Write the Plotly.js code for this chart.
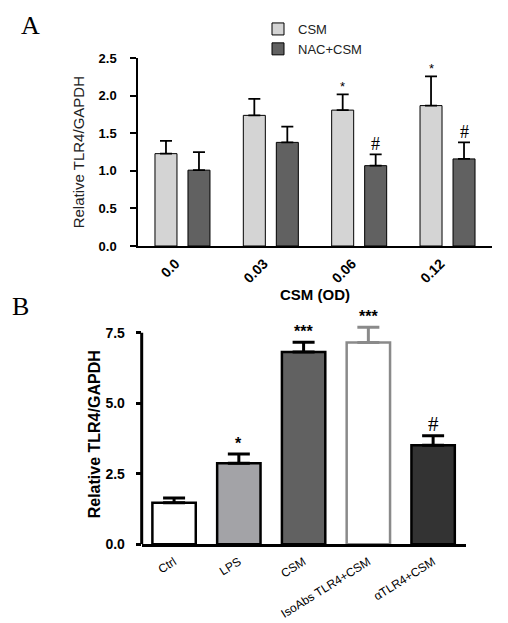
<!DOCTYPE html>
<html>
<head>
<meta charset="utf-8">
<script src="https://cdn.plot.ly/plotly-3.0.1.min.js"></script>
<style>html,body{margin:0;padding:0;background:#fff;}#chart{width:508px;height:623px;}</style>
</head>
<body>
<div id="chart"></div>
<script>
// ---- Panel A data ----
const categoriesA = ["0.0", "0.03", "0.06", "0.12"];
const csmA = [1.23, 1.74, 1.81, 1.87];
const csmErrA = [0.17, 0.22, 0.21, 0.39];
const nacA = [1.01, 1.38, 1.07, 1.16];
const nacErrA = [0.24, 0.21, 0.15, 0.22];
const sigCsmA = ["", "", "*", "*"];
const sigNacA = ["", "", "#", "#"];
const seriesNamesA = ["CSM", "NAC+CSM"];

// ---- Panel B data ----
const categoriesB = ["Ctrl", "LPS", "CSM", "IsoAbs TLR4+CSM", "αTLR4+CSM"];
const valuesB = [1.47, 2.87, 6.82, 7.15, 3.51];
const errorsB = [0.17, 0.33, 0.34, 0.54, 0.34];
const sigB = ["", "*", "***", "***", "#"];

// ---- styles ----
const FONT = 'Arial, "Liberation Sans", sans-serif';
const SERIF = '"Times New Roman", "Liberation Serif", "DejaVu Serif", serif';
const fillB = ["#ffffff", "#a3a3a7", "#616161", "#ffffff", "#333333"];
const lineB = ["#000000", "#000000", "#000000", "#8a8a8a", "#000000"];
const isoIndex = 3;
const rangeA = [0, 2.5];
const rangeB = [0, 7.8];     // a little headroom so the tallest error bar is not clipped
const axisTopB = 7.5;        // the drawn y axis line stops at the last tick

const traces = [];
traces.push({
  type: "bar", name: seriesNamesA[0], x: categoriesA, y: csmA, xaxis: "x", yaxis: "y", cliponaxis: false,
  marker: {color: "#d4d4d4", line: {color: "#000", width: 1}},
  error_y: {type: "data", symmetric: false, array: csmErrA, arrayminus: csmA.map(() => 0), color: "#000", thickness: 1.8, width: 6}
});
traces.push({
  type: "bar", name: seriesNamesA[1], x: categoriesA, y: nacA, xaxis: "x", yaxis: "y", cliponaxis: false,
  marker: {color: "#616161", line: {color: "#000", width: 1}},
  error_y: {type: "data", symmetric: false, array: nacErrA, arrayminus: nacA.map(() => 0), color: "#000", thickness: 1.8, width: 6}
});

function pick(arr, idx) { return idx.map(i => arr[i]); }
const mainIdx = categoriesB.map((c, i) => i).filter(i => i !== isoIndex);
const isoIdx = [isoIndex];
[[mainIdx, "#000"], [isoIdx, "#8a8a8a"]].forEach(([idx, ec]) => {
  traces.push({
    type: "bar", showlegend: false, x: pick(categoriesB, idx), y: pick(valuesB, idx),
    xaxis: "x2", yaxis: "y2", offsetgroup: "b", width: 0.67, cliponaxis: false,
    marker: {color: pick(fillB, idx), line: {color: pick(lineB, idx), width: 2.5}},
    error_y: {type: "data", symmetric: false, array: pick(errorsB, idx), arrayminus: idx.map(() => 0), color: ec, thickness: 3, width: 11}
  });
});

const annotations = [];
categoriesA.forEach((c, i) => {
  if (sigCsmA[i]) annotations.push({x: i, y: csmA[i] + csmErrA[i], xref: "x", yref: "y", text: sigCsmA[i], showarrow: false, xshift: -16.5, yanchor: "bottom", yshift: -2, font: {family: FONT, size: 13, color: "#000"}});
  if (sigNacA[i]) annotations.push({x: i, y: nacA[i] + nacErrA[i], xref: "x", yref: "y", text: sigNacA[i], showarrow: false, xshift: 16.5, yanchor: "bottom", yshift: -2, font: {family: SERIF, size: 18, color: "#000"}});
});
categoriesB.forEach((c, i) => {
  if (!sigB[i]) return;
  const isHash = sigB[i] === "#";
  annotations.push({x: i, y: valuesB[i] + errorsB[i], xref: "x2", yref: "y2", text: isHash ? sigB[i] : "<b>" + sigB[i] + "</b>", showarrow: false, yanchor: "bottom", yshift: isHash ? -2 : 0, font: {family: isHash ? SERIF : FONT, size: isHash ? 21 : 16, color: "#000"}});
});
annotations.push({x: 19 / 508, y: 1 - 9 / 623, xref: "paper", yref: "paper", xanchor: "left", yanchor: "top", text: "A", showarrow: false, font: {family: SERIF, size: 26, color: "#000"}});
annotations.push({x: 10 / 508, y: 1 - 290 / 623, xref: "paper", yref: "paper", xanchor: "left", yanchor: "top", text: "B", showarrow: false, font: {family: SERIF, size: 26, color: "#000"}});

// panel B y-axis line, stopping at the 7.5 tick
const shapes = [{
  type: "line", xref: "x2 domain", yref: "y2", x0: 0, x1: 0, y0: rangeB[0], y1: axisTopB,
  line: {color: "#000", width: 3}, layer: "above"
}];

// pixel layout: 7.5 at y=332.7, 0 at y=544.3
const pxPerUnitB = (544.3 - 332.7) / 7.5;
const topPxB = 544.3 - pxPerUnitB * rangeB[1];

const layout = {
  width: 508, height: 623,
  margin: {l: 0, r: 0, t: 0, b: 0},
  paper_bgcolor: "#fff", plot_bgcolor: "rgba(0,0,0,0)",
  font: {family: FONT, color: "#000"},
  barmode: "group", bargap: 0.253, bargroupgap: 0.333,
  showlegend: true,
  legend: {x: 258 / 508, y: 1 - 14 / 623, xanchor: "left", yanchor: "top", font: {family: FONT, size: 13, color: "#222"}, bgcolor: "rgba(0,0,0,0)", tracegroupgap: 0},
  xaxis: {
    domain: [138.3 / 508, 491.7 / 508], anchor: "y", type: "category",
    showline: true, linewidth: 2, linecolor: "#000", ticks: "", showgrid: false, zeroline: false,
    tickangle: -45, tickfont: {family: FONT, size: 14, weight: "bold"}, ticklabelshift: -7, ticklabelstandoff: 2,
    title: {text: "CSM (OD)", font: {family: FONT, size: 15, weight: "bold"}, standoff: 0}
  },
  yaxis: {
    domain: [1 - 246 / 623, 1 - 58.3 / 623], anchor: "x", range: rangeA, dtick: 0.5, tickformat: ".1f",
    showline: true, linewidth: 2, linecolor: "#000", ticks: "outside", ticklen: 6, tickwidth: 2, tickcolor: "#000",
    ticklabelstandoff: 11,
    showgrid: false, zeroline: false, tickfont: {family: FONT, size: 13, weight: "bold"},
    title: {text: "Relative TLR4/GAPDH", font: {family: FONT, size: 15, color: "#222"}, standoff: 10}
  },
  xaxis2: {
    domain: [141.7 / 508, 465.5 / 508], anchor: "y2", type: "category",
    categoryorder: "array", categoryarray: categoriesB,
    showline: true, linewidth: 3, linecolor: "#000", ticks: "", showgrid: false, zeroline: false,
    ticklabelstandoff: 3, ticklabelshift: 0,
    tickangle: -32, tickfont: {family: FONT, size: 12}
  },
  yaxis2: {
    domain: [1 - 544.3 / 623, 1 - topPxB / 623], anchor: "x2", range: rangeB, dtick: 2.5, tickformat: ".1f",
    showline: false, ticks: "outside", ticklen: 5, tickwidth: 3, tickcolor: "#000",
    ticklabelstandoff: 8,
    showgrid: false, zeroline: false, tickfont: {family: FONT, size: 14, weight: "bold"},
    title: {text: "Relative TLR4/GAPDH", font: {family: FONT, size: 16, weight: "bold"}, standoff: 0}
  },
  shapes: shapes,
  annotations: annotations
};

Plotly.newPlot("chart", traces, layout, {staticPlot: true, displayModeBar: false});
</script>
</body>
</html>
